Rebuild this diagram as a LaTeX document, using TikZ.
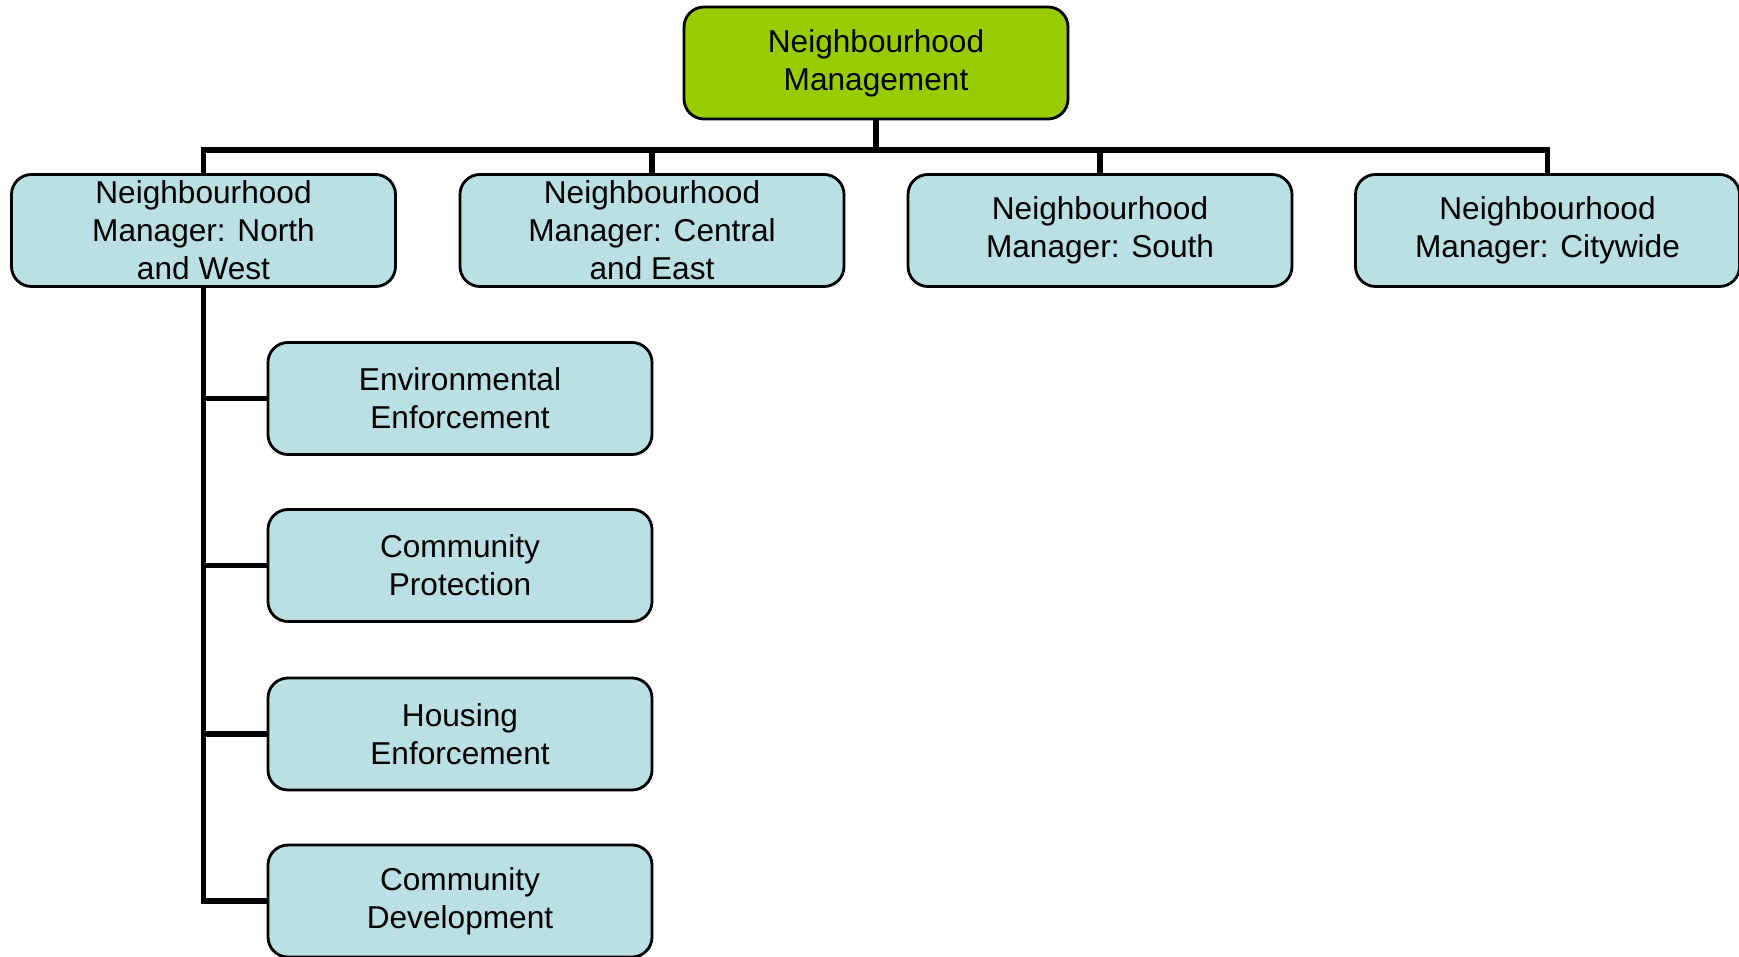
\documentclass[tikz,border=0pt]{standalone}
\usepackage{fontspec}
\setmainfont{Liberation Sans}
\usepackage{tikz}

\definecolor{mgmtgreen}{RGB}{153,204,0}
\definecolor{teamblue}{RGB}{187,224,227}

\begin{document}
\begin{tikzpicture}[every node/.style={rectangle, rounded corners=2mm, draw=black, line width=0.8pt, fill=teamblue, minimum width=3.84cm, minimum height=1.12cm, inner sep=0pt, align=center, font=\fontsize{9}{10.8}\selectfont}, link/.style={draw=black, line width=1.6pt, line join=miter}]
				\useasboundingbox (0,0) rectangle (17.39,-9.56);
				
				\node[fill=mgmtgreen] (mgmt) at (8.76,-0.63){Neighbourhood\\Management};
				
				\node (mgr1) at (2.035,-2.305){Neighbourhood\\Manager: North\\and West};
				\node (mgr2) at (6.52,-2.305){Neighbourhood\\Manager: Central\\and East};
				\node (mgr3) at (11.00,-2.305){Neighbourhood\\Manager: South};
				\node (mgr4) at (15.475,-2.305){Neighbourhood\\Manager: Citywide};
				
				\node (team1) at (4.60,-3.985){Environmental\\Enforcement};
				\node (team2) at (4.60,-5.655){Community\\Protection};
				\node (team3) at (4.60,-7.34){Housing\\Enforcement};
				\node (team4) at (4.60,-9.01){Community\\Development};
				
				\coordinate (bus) at (8.76,-1.50);
				
				\draw[link] (mgmt.south) -- (bus);
				\draw[link] (mgr1.north) |- (bus) -| (mgr4.north);
				\draw[link] (mgr2.north) |- (bus);
				\draw[link] (mgr3.north) |- (bus);
				
				\draw[link] (mgr1.south) |- (team1.west);
				\draw[link] (mgr1.south) |- (team2.west);
				\draw[link] (mgr1.south) |- (team3.west);
				\draw[link] (mgr1.south) |- (team4.west);
\end{tikzpicture}
\end{document}
